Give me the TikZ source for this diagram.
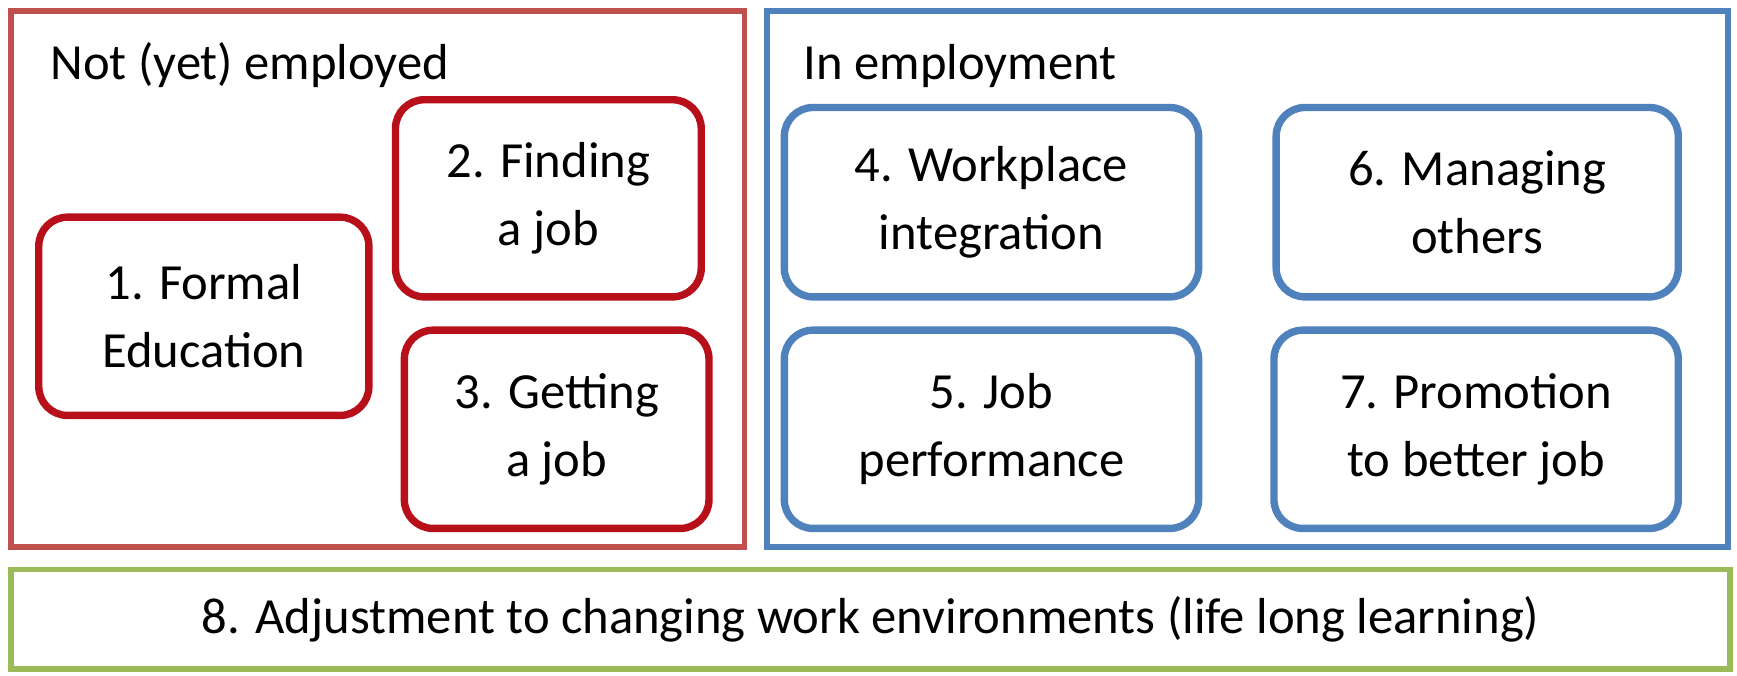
\documentclass[tikz,border=0pt]{standalone}
\usepackage{fontspec}
\setmainfont{Carlito}
\usepackage{tikz}
\usetikzlibrary{positioning,backgrounds,calc}
\definecolor{framered}{RGB}{192,80,77}
\definecolor{boxred}{RGB}{184,16,26}
\definecolor{frameblue}{RGB}{79,129,189}
\definecolor{framegreen}{RGB}{155,187,89}

\begin{document}
\begin{tikzpicture}[x=0.1mm, y=-0.1mm,
 font=\fontsize{13}{17.4}\selectfont,
 frame/.style={draw, line width=1.5pt, inner sep=0pt},
 task/.style={draw, rounded corners=2.6mm, line width=1.9pt, align=center, inner sep=0pt},
 redtask/.style={task, draw=boxred},
 bluetask/.style={task, draw=frameblue}]
 \useasboundingbox (0,0) rectangle (1568,610);
 % the two phases
 \node[frame, draw=framered, minimum width=6.62cm, minimum height=4.84cm] (notemp) at (341,252) {};
 \node[frame, draw=frameblue, minimum width=8.68cm, minimum height=4.84cm] (inemp) at (1126,252) {};
 \node[anchor=base west, inner sep=0pt] (notemplbl) at (45,72) {Not (yet) employed};
 \node[anchor=base west, inner sep=0pt] (inemplbl) at (725,72) {In employment};
 % not yet employed
 \node[redtask, minimum width=2.98cm, minimum height=1.79cm] (t1) at (184,285.5) {1. Formal\\Education};
 \node[redtask, minimum width=2.76cm, minimum height=1.78cm] (t2) at (495,179) {2. Finding\\a job};
 \node[redtask, minimum width=2.75cm, minimum height=1.79cm] (t3) at (502.5,387.5) {3. Getting\\a job};
 % in employment
 \node[bluetask, minimum width=3.74cm, minimum height=1.71cm] (t4) at (895,182.5) {4. Workplace\\integration};
 \node[bluetask, minimum width=3.74cm, minimum height=1.79cm] (t5) at (895,387.5) {5. Job\\performance};
 \node[bluetask, minimum width=3.63cm, minimum height=1.71cm] (t6) at (1333.5,182.5) {6. Managing\\others};
 \node[bluetask, minimum width=3.65cm, minimum height=1.79cm] (t7) at (1332.5,387.5) {7. Promotion\\to better job};
 % whole career
 \node[frame, draw=framegreen, minimum width=15.52cm, minimum height=0.9cm] (t8) at (786,559) {8. Adjustment to changing work environments (life long learning)};
\end{tikzpicture}
\end{document}
